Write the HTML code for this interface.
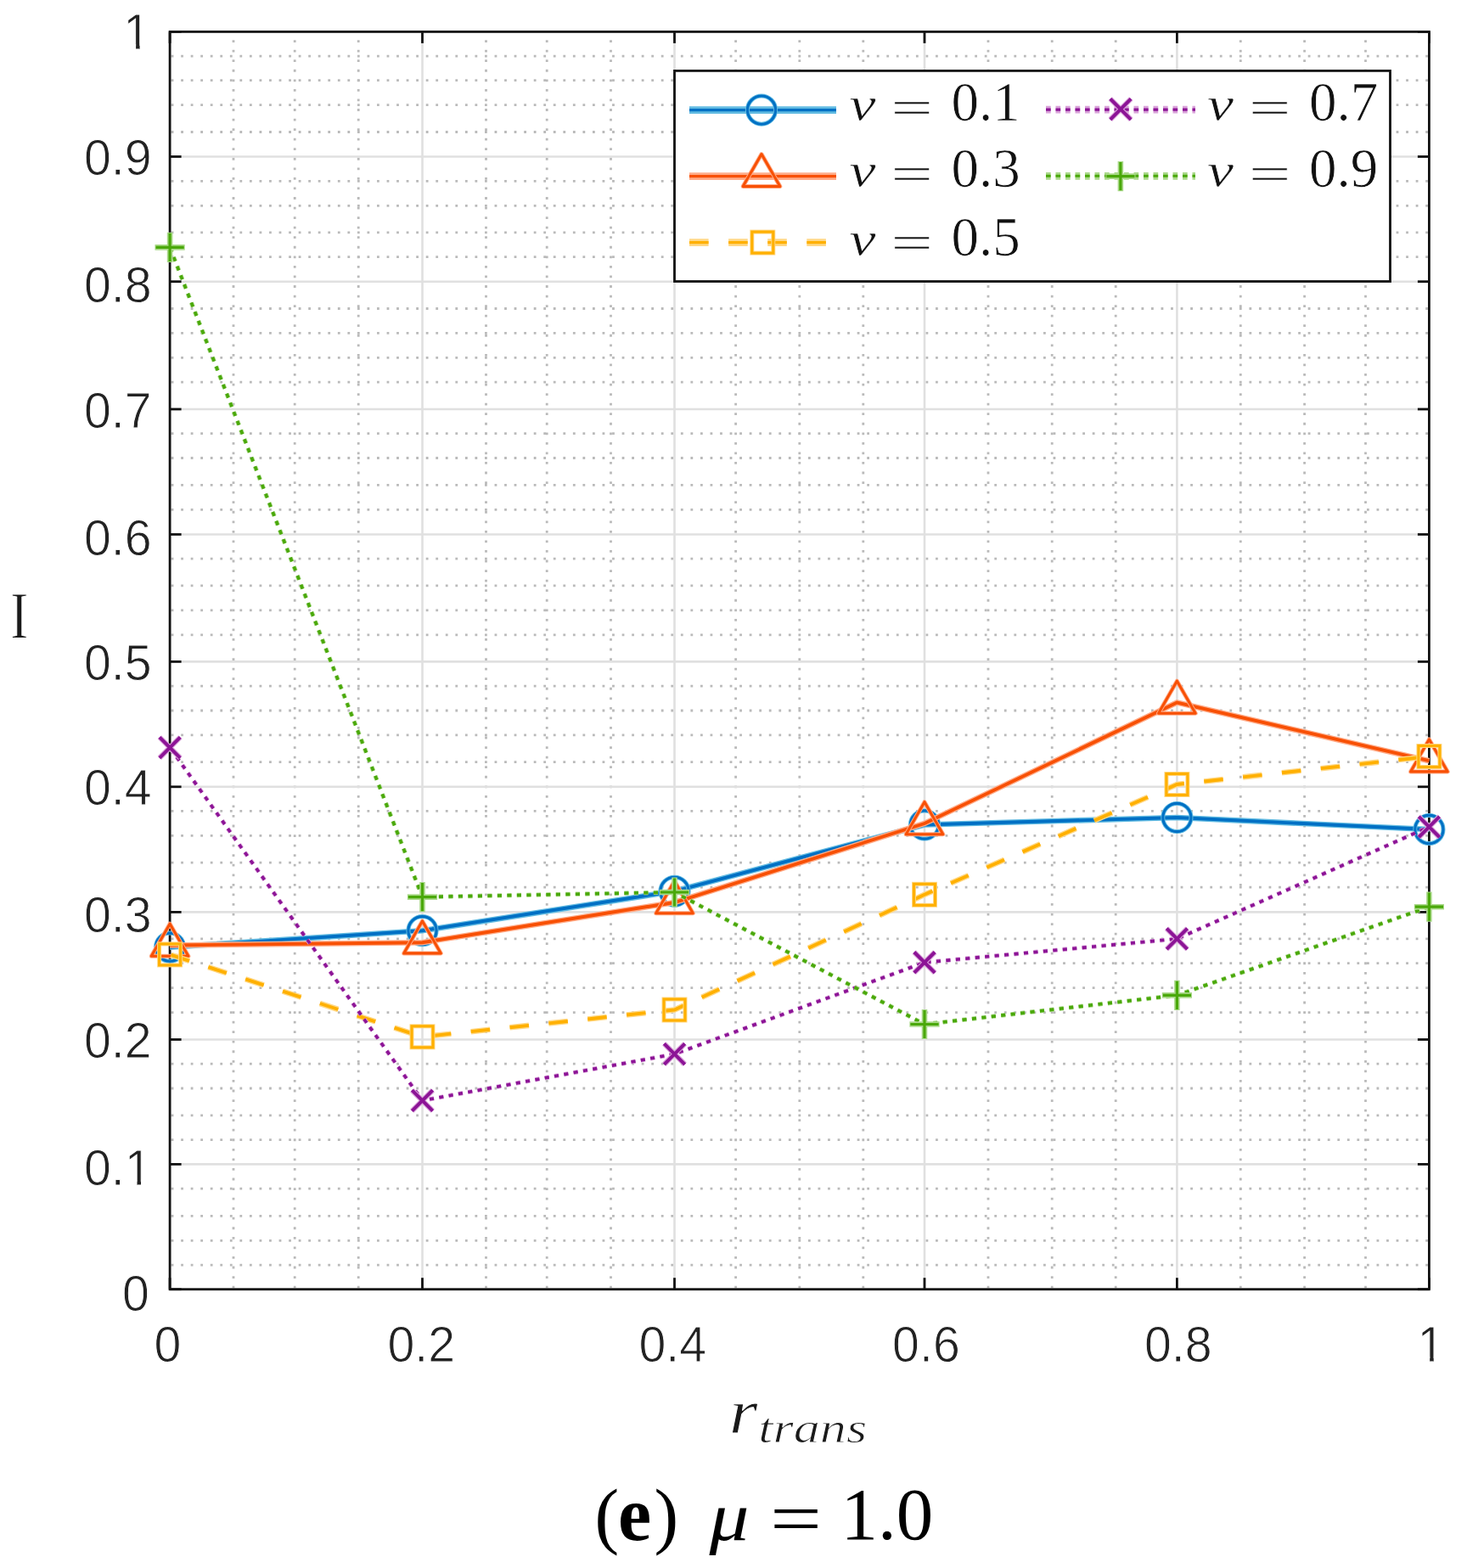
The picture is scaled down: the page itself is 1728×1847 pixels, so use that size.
<!DOCTYPE html>
<html><head><meta charset="utf-8"><title>I vs r_trans (mu = 1.0)</title>
<style>html,body{margin:0;padding:0;background:#fff;width:1728px;height:1847px;overflow:hidden}svg{display:block}</style>
</head><body>
<svg width="1728" height="1847" viewBox="0 0 1728 1847">
<defs><clipPath id="c0"><path d="M125.3,-22H265.3V51.6H164.6V68H160.1V51.6H145.3V68H125.3Z"/></clipPath><clipPath id="c1"><path d="M78.9,1315.6H218.9V1389.2H166V1405.6H161.5V1389.2H146.7V1405.6H78.9Z"/></clipPath><clipPath id="c2"><path d="M1649.4,1523.8H1789.4V1597.4H1688.7V1613.8H1684.2V1597.4H1669.4V1613.8H1649.4Z"/></clipPath></defs>
<style>
.mv{stroke:#bababa;stroke-width:2.8;stroke-dasharray:2.8 8.755;stroke-dashoffset:3.255}
.mh{stroke:#bababa;stroke-width:2.8;stroke-dasharray:2.8 8.744}
.mj{stroke:#e0e0e0;stroke-width:2.6}
.tk{font-family:"Liberation Sans",Arial,sans-serif;font-size:60px;fill:#222;stroke:#fff;stroke-width:0.9px}
.lg{font-family:"Liberation Serif","Times New Roman",serif;fill:#111;stroke:#fff;stroke-width:0.7px}
.xl{font-family:"Liberation Serif","Times New Roman",serif;fill:#1a1a1a;stroke:#fff;stroke-width:0.9px}
.cap{font-family:"Liberation Serif","Times New Roman",serif;fill:#000}
.it{font-style:italic}
.b{font-weight:bold}
</style>
<rect width="1728" height="1847" fill="#fff"/>
<g><line x1="275" y1="38.9" x2="275" y2="1517.2" class="mv"/><line x1="347.2" y1="38.9" x2="347.2" y2="1517.2" class="mv"/><line x1="422.2" y1="38.9" x2="422.2" y2="1517.2" class="mv"/><line x1="572.5" y1="38.9" x2="572.5" y2="1517.2" class="mv"/><line x1="644.2" y1="38.9" x2="644.2" y2="1517.2" class="mv"/><line x1="719.5" y1="38.9" x2="719.5" y2="1517.2" class="mv"/><line x1="866.6" y1="38.9" x2="866.6" y2="1517.2" class="mv"/><line x1="941.8" y1="38.9" x2="941.8" y2="1517.2" class="mv"/><line x1="1016.8" y1="38.9" x2="1016.8" y2="1517.2" class="mv"/><line x1="1164" y1="38.9" x2="1164" y2="1517.2" class="mv"/><line x1="1239.2" y1="38.9" x2="1239.2" y2="1517.2" class="mv"/><line x1="1314.2" y1="38.9" x2="1314.2" y2="1517.2" class="mv"/><line x1="1461.3" y1="38.9" x2="1461.3" y2="1517.2" class="mv"/><line x1="1536.6" y1="38.9" x2="1536.6" y2="1517.2" class="mv"/><line x1="1608.5" y1="38.9" x2="1608.5" y2="1517.2" class="mv"/><line x1="201.6" y1="66.1" x2="1681.9" y2="66.1" class="mh"/><line x1="201.6" y1="94.6" x2="1681.9" y2="94.6" class="mh"/><line x1="201.6" y1="123.7" x2="1681.9" y2="123.7" class="mh"/><line x1="201.6" y1="155.5" x2="1681.9" y2="155.5" class="mh"/><line x1="201.6" y1="213.3" x2="1681.9" y2="213.3" class="mh"/><line x1="201.6" y1="242.3" x2="1681.9" y2="242.3" class="mh"/><line x1="201.6" y1="273.9" x2="1681.9" y2="273.9" class="mh"/><line x1="201.6" y1="302.7" x2="1681.9" y2="302.7" class="mh"/><line x1="201.6" y1="363.5" x2="1681.9" y2="363.5" class="mh"/><line x1="201.6" y1="392.4" x2="1681.9" y2="392.4" class="mh"/><line x1="201.6" y1="421.3" x2="1681.9" y2="421.3" class="mh"/><line x1="201.6" y1="450.2" x2="1681.9" y2="450.2" class="mh"/><line x1="201.6" y1="510.6" x2="1681.9" y2="510.6" class="mh"/><line x1="201.6" y1="539.5" x2="1681.9" y2="539.5" class="mh"/><line x1="201.6" y1="571.4" x2="1681.9" y2="571.4" class="mh"/><line x1="201.6" y1="600.3" x2="1681.9" y2="600.3" class="mh"/><line x1="201.6" y1="658.1" x2="1681.9" y2="658.1" class="mh"/><line x1="201.6" y1="689.9" x2="1681.9" y2="689.9" class="mh"/><line x1="201.6" y1="718.8" x2="1681.9" y2="718.8" class="mh"/><line x1="201.6" y1="747.8" x2="1681.9" y2="747.8" class="mh"/><line x1="201.6" y1="808.2" x2="1681.9" y2="808.2" class="mh"/><line x1="201.6" y1="837" x2="1681.9" y2="837" class="mh"/><line x1="201.6" y1="865.9" x2="1681.9" y2="865.9" class="mh"/><line x1="201.6" y1="897.6" x2="1681.9" y2="897.6" class="mh"/><line x1="201.6" y1="955.3" x2="1681.9" y2="955.3" class="mh"/><line x1="201.6" y1="984.3" x2="1681.9" y2="984.3" class="mh"/><line x1="201.6" y1="1016.2" x2="1681.9" y2="1016.2" class="mh"/><line x1="201.6" y1="1045.1" x2="1681.9" y2="1045.1" class="mh"/><line x1="201.6" y1="1105.8" x2="1681.9" y2="1105.8" class="mh"/><line x1="201.6" y1="1134.7" x2="1681.9" y2="1134.7" class="mh"/><line x1="201.6" y1="1163.6" x2="1681.9" y2="1163.6" class="mh"/><line x1="201.6" y1="1192.6" x2="1681.9" y2="1192.6" class="mh"/><line x1="201.6" y1="1253.1" x2="1681.9" y2="1253.1" class="mh"/><line x1="201.6" y1="1282" x2="1681.9" y2="1282" class="mh"/><line x1="201.6" y1="1313.8" x2="1681.9" y2="1313.8" class="mh"/><line x1="201.6" y1="1342.7" x2="1681.9" y2="1342.7" class="mh"/><line x1="201.6" y1="1400.2" x2="1681.9" y2="1400.2" class="mh"/><line x1="201.6" y1="1432.3" x2="1681.9" y2="1432.3" class="mh"/><line x1="201.6" y1="1461.3" x2="1681.9" y2="1461.3" class="mh"/><line x1="201.6" y1="1490.1" x2="1681.9" y2="1490.1" class="mh"/><line x1="497.5" y1="37.4" x2="497.5" y2="1518.7" class="mj"/><line x1="794.5" y1="37.4" x2="794.5" y2="1518.7" class="mj"/><line x1="1089.0" y1="37.4" x2="1089.0" y2="1518.7" class="mj"/><line x1="1386.4" y1="37.4" x2="1386.4" y2="1518.7" class="mj"/><line x1="200.1" y1="1371.4" x2="1683.4" y2="1371.4" class="mj"/><line x1="200.1" y1="1224.5" x2="1683.4" y2="1224.5" class="mj"/><line x1="200.1" y1="1074.4" x2="1683.4" y2="1074.4" class="mj"/><line x1="200.1" y1="926.8" x2="1683.4" y2="926.8" class="mj"/><line x1="200.1" y1="779.4" x2="1683.4" y2="779.4" class="mj"/><line x1="200.1" y1="629.5" x2="1683.4" y2="629.5" class="mj"/><line x1="200.1" y1="482.0" x2="1683.4" y2="482.0" class="mj"/><line x1="200.1" y1="331.7" x2="1683.4" y2="331.7" class="mj"/><line x1="200.1" y1="184.5" x2="1683.4" y2="184.5" class="mj"/></g>
<g stroke="#111" stroke-width="2.8"><line x1="200.1" y1="1518.7" x2="200.1" y2="1505.2"/><line x1="200.1" y1="37.4" x2="200.1" y2="50.9"/><line x1="497.5" y1="1518.7" x2="497.5" y2="1505.2"/><line x1="497.5" y1="37.4" x2="497.5" y2="50.9"/><line x1="794.5" y1="1518.7" x2="794.5" y2="1505.2"/><line x1="794.5" y1="37.4" x2="794.5" y2="50.9"/><line x1="1089.0" y1="1518.7" x2="1089.0" y2="1505.2"/><line x1="1089.0" y1="37.4" x2="1089.0" y2="50.9"/><line x1="1386.4" y1="1518.7" x2="1386.4" y2="1505.2"/><line x1="1386.4" y1="37.4" x2="1386.4" y2="50.9"/><line x1="1683.4" y1="1518.7" x2="1683.4" y2="1505.2"/><line x1="1683.4" y1="37.4" x2="1683.4" y2="50.9"/><line x1="200.1" y1="37.4" x2="213.6" y2="37.4"/><line x1="1683.4" y1="37.4" x2="1669.9" y2="37.4"/><line x1="200.1" y1="184.5" x2="213.6" y2="184.5"/><line x1="1683.4" y1="184.5" x2="1669.9" y2="184.5"/><line x1="200.1" y1="331.7" x2="213.6" y2="331.7"/><line x1="1683.4" y1="331.7" x2="1669.9" y2="331.7"/><line x1="200.1" y1="482.0" x2="213.6" y2="482.0"/><line x1="1683.4" y1="482.0" x2="1669.9" y2="482.0"/><line x1="200.1" y1="629.5" x2="213.6" y2="629.5"/><line x1="1683.4" y1="629.5" x2="1669.9" y2="629.5"/><line x1="200.1" y1="779.4" x2="213.6" y2="779.4"/><line x1="1683.4" y1="779.4" x2="1669.9" y2="779.4"/><line x1="200.1" y1="926.8" x2="213.6" y2="926.8"/><line x1="1683.4" y1="926.8" x2="1669.9" y2="926.8"/><line x1="200.1" y1="1074.4" x2="213.6" y2="1074.4"/><line x1="1683.4" y1="1074.4" x2="1669.9" y2="1074.4"/><line x1="200.1" y1="1224.5" x2="213.6" y2="1224.5"/><line x1="1683.4" y1="1224.5" x2="1669.9" y2="1224.5"/><line x1="200.1" y1="1371.4" x2="213.6" y2="1371.4"/><line x1="1683.4" y1="1371.4" x2="1669.9" y2="1371.4"/><line x1="200.1" y1="1518.7" x2="213.6" y2="1518.7"/><line x1="1683.4" y1="1518.7" x2="1669.9" y2="1518.7"/></g>
<rect x="200.1" y="37.4" width="1483.3" height="1481.3" fill="none" stroke="#111" stroke-width="2.8"/>
<g><polyline points="200.1,1115.7 497.5,1096.2 794.5,1049.8 1089,971.5 1386.4,963 1683.4,977" stroke="#62bbe2" stroke-width="6.6" fill="none"/><polyline points="200.1,1115.7 497.5,1096.2 794.5,1049.8 1089,971.5 1386.4,963 1683.4,977" stroke="#0070c4" stroke-width="3.9" fill="none"/><circle cx="200.1" cy="1115.7" r="16.6" fill="none" stroke="#62bbe2" stroke-width="5"/><circle cx="200.1" cy="1115.7" r="16.6" fill="none" stroke="#0070c4" stroke-width="3.1"/><circle cx="497.5" cy="1096.2" r="16.6" fill="none" stroke="#62bbe2" stroke-width="5"/><circle cx="497.5" cy="1096.2" r="16.6" fill="none" stroke="#0070c4" stroke-width="3.1"/><circle cx="794.5" cy="1049.8" r="16.6" fill="none" stroke="#62bbe2" stroke-width="5"/><circle cx="794.5" cy="1049.8" r="16.6" fill="none" stroke="#0070c4" stroke-width="3.1"/><circle cx="1089" cy="971.5" r="16.6" fill="none" stroke="#62bbe2" stroke-width="5"/><circle cx="1089" cy="971.5" r="16.6" fill="none" stroke="#0070c4" stroke-width="3.1"/><circle cx="1386.4" cy="963" r="16.6" fill="none" stroke="#62bbe2" stroke-width="5"/><circle cx="1386.4" cy="963" r="16.6" fill="none" stroke="#0070c4" stroke-width="3.1"/><circle cx="1683.4" cy="977" r="16.6" fill="none" stroke="#62bbe2" stroke-width="5"/><circle cx="1683.4" cy="977" r="16.6" fill="none" stroke="#0070c4" stroke-width="3.1"/><polyline points="200.1,1113.5 497.5,1110.2 794.5,1063 1089,970 1386.4,827.5 1683.4,896.2" stroke="#ffab88" stroke-width="6.6" fill="none"/><polyline points="200.1,1113.5 497.5,1110.2 794.5,1063 1089,970 1386.4,827.5 1683.4,896.2" stroke="#f85005" stroke-width="3.9" fill="none"/><path d="M200.1,1088.2L221.9,1126.2L178.3,1126.2Z" fill="none" stroke="#ffab88" stroke-width="5" stroke-linejoin="round"/><path d="M200.1,1088.2L221.9,1126.2L178.3,1126.2Z" fill="none" stroke="#f85005" stroke-width="3.1" stroke-linejoin="round"/><path d="M497.5,1084.9L519.3,1122.9L475.7,1122.9Z" fill="none" stroke="#ffab88" stroke-width="5" stroke-linejoin="round"/><path d="M497.5,1084.9L519.3,1122.9L475.7,1122.9Z" fill="none" stroke="#f85005" stroke-width="3.1" stroke-linejoin="round"/><path d="M794.5,1037.7L816.3,1075.7L772.7,1075.7Z" fill="none" stroke="#ffab88" stroke-width="5" stroke-linejoin="round"/><path d="M794.5,1037.7L816.3,1075.7L772.7,1075.7Z" fill="none" stroke="#f85005" stroke-width="3.1" stroke-linejoin="round"/><path d="M1089,944.7L1110.8,982.7L1067.2,982.7Z" fill="none" stroke="#ffab88" stroke-width="5" stroke-linejoin="round"/><path d="M1089,944.7L1110.8,982.7L1067.2,982.7Z" fill="none" stroke="#f85005" stroke-width="3.1" stroke-linejoin="round"/><path d="M1386.4,802.2L1408.2,840.2L1364.6,840.2Z" fill="none" stroke="#ffab88" stroke-width="5" stroke-linejoin="round"/><path d="M1386.4,802.2L1408.2,840.2L1364.6,840.2Z" fill="none" stroke="#f85005" stroke-width="3.1" stroke-linejoin="round"/><path d="M1683.4,870.9L1705.2,908.9L1661.6,908.9Z" fill="none" stroke="#ffab88" stroke-width="5" stroke-linejoin="round"/><path d="M1683.4,870.9L1705.2,908.9L1661.6,908.9Z" fill="none" stroke="#f85005" stroke-width="3.1" stroke-linejoin="round"/><polyline points="200.1,1124.4 497.5,1221.3 794.5,1189.5 1089,1053.8 1386.4,924 1683.4,891" stroke="#ffd886" stroke-width="6.6" fill="none" stroke-dasharray="22.6 23.5" stroke-dashoffset="-1.5"/><polyline points="200.1,1124.4 497.5,1221.3 794.5,1189.5 1089,1053.8 1386.4,924 1683.4,891" stroke="#ffb000" stroke-width="3.9" fill="none" stroke-dasharray="22.6 23.5" stroke-dashoffset="-1.5"/><rect x="187.6" y="1111.9" width="25" height="25" fill="none" stroke="#ffd886" stroke-width="5"/><rect x="187.6" y="1111.9" width="25" height="25" fill="none" stroke="#ffb000" stroke-width="3.1"/><rect x="485" y="1208.8" width="25" height="25" fill="none" stroke="#ffd886" stroke-width="5"/><rect x="485" y="1208.8" width="25" height="25" fill="none" stroke="#ffb000" stroke-width="3.1"/><rect x="782" y="1177" width="25" height="25" fill="none" stroke="#ffd886" stroke-width="5"/><rect x="782" y="1177" width="25" height="25" fill="none" stroke="#ffb000" stroke-width="3.1"/><rect x="1076.5" y="1041.3" width="25" height="25" fill="none" stroke="#ffd886" stroke-width="5"/><rect x="1076.5" y="1041.3" width="25" height="25" fill="none" stroke="#ffb000" stroke-width="3.1"/><rect x="1373.9" y="911.5" width="25" height="25" fill="none" stroke="#ffd886" stroke-width="5"/><rect x="1373.9" y="911.5" width="25" height="25" fill="none" stroke="#ffb000" stroke-width="3.1"/><rect x="1670.9" y="878.5" width="25" height="25" fill="none" stroke="#ffd886" stroke-width="5"/><rect x="1670.9" y="878.5" width="25" height="25" fill="none" stroke="#ffb000" stroke-width="3.1"/><polyline points="200.1,880.6 497.5,1296.4 794.5,1241.6 1089,1133.7 1386.4,1105.9 1683.4,974" stroke="#d9a2d9" stroke-width="5.3" fill="none" stroke-dasharray="5.2 6.3" stroke-dashoffset="-2.3"/><polyline points="200.1,880.6 497.5,1296.4 794.5,1241.6 1089,1133.7 1386.4,1105.9 1683.4,974" stroke="#8c1496" stroke-width="3.6" fill="none" stroke-dasharray="5.2 6.3" stroke-dashoffset="-2.3"/><path d="M187.9,868.4L212.3,892.8M187.9,892.8L212.3,868.4" stroke="#d9a2d9" stroke-width="6.2" fill="none"/><path d="M187.9,868.4L212.3,892.8M187.9,892.8L212.3,868.4" stroke="#8c1496" stroke-width="4" fill="none"/><path d="M485.3,1284.2L509.7,1308.6M485.3,1308.6L509.7,1284.2" stroke="#d9a2d9" stroke-width="6.2" fill="none"/><path d="M485.3,1284.2L509.7,1308.6M485.3,1308.6L509.7,1284.2" stroke="#8c1496" stroke-width="4" fill="none"/><path d="M782.3,1229.4L806.7,1253.8M782.3,1253.8L806.7,1229.4" stroke="#d9a2d9" stroke-width="6.2" fill="none"/><path d="M782.3,1229.4L806.7,1253.8M782.3,1253.8L806.7,1229.4" stroke="#8c1496" stroke-width="4" fill="none"/><path d="M1076.8,1121.5L1101.2,1145.9M1076.8,1145.9L1101.2,1121.5" stroke="#d9a2d9" stroke-width="6.2" fill="none"/><path d="M1076.8,1121.5L1101.2,1145.9M1076.8,1145.9L1101.2,1121.5" stroke="#8c1496" stroke-width="4" fill="none"/><path d="M1374.2,1093.7L1398.6,1118.1M1374.2,1118.1L1398.6,1093.7" stroke="#d9a2d9" stroke-width="6.2" fill="none"/><path d="M1374.2,1093.7L1398.6,1118.1M1374.2,1118.1L1398.6,1093.7" stroke="#8c1496" stroke-width="4" fill="none"/><path d="M1671.2,961.8L1695.6,986.2M1671.2,986.2L1695.6,961.8" stroke="#d9a2d9" stroke-width="6.2" fill="none"/><path d="M1671.2,961.8L1695.6,986.2M1671.2,986.2L1695.6,961.8" stroke="#8c1496" stroke-width="4" fill="none"/><polyline points="200.1,291.4 497.5,1056.6 794.5,1051 1089,1206.5 1386.4,1172.4 1683.4,1068.2" stroke="#aad98a" stroke-width="5.3" fill="none" stroke-dasharray="5.2 6.3" stroke-dashoffset="-0.8"/><polyline points="200.1,291.4 497.5,1056.6 794.5,1051 1089,1206.5 1386.4,1172.4 1683.4,1068.2" stroke="#4aa80a" stroke-width="3.6" fill="none" stroke-dasharray="5.2 6.3" stroke-dashoffset="-0.8"/><path d="M182.5,291.4L217.7,291.4M200.1,273.8L200.1,309" stroke="#aad98a" stroke-width="6.6" fill="none"/><path d="M183.5,291.4L216.7,291.4M200.1,274.8L200.1,308" stroke="#4aa80a" stroke-width="3.2" fill="none"/><path d="M479.9,1056.6L515.1,1056.6M497.5,1039L497.5,1074.2" stroke="#aad98a" stroke-width="6.6" fill="none"/><path d="M480.9,1056.6L514.1,1056.6M497.5,1040L497.5,1073.2" stroke="#4aa80a" stroke-width="3.2" fill="none"/><path d="M776.9,1051L812.1,1051M794.5,1033.4L794.5,1068.6" stroke="#aad98a" stroke-width="6.6" fill="none"/><path d="M777.9,1051L811.1,1051M794.5,1034.4L794.5,1067.6" stroke="#4aa80a" stroke-width="3.2" fill="none"/><path d="M1071.4,1206.5L1106.6,1206.5M1089,1188.9L1089,1224.1" stroke="#aad98a" stroke-width="6.6" fill="none"/><path d="M1072.4,1206.5L1105.6,1206.5M1089,1189.9L1089,1223.1" stroke="#4aa80a" stroke-width="3.2" fill="none"/><path d="M1368.8,1172.4L1404,1172.4M1386.4,1154.8L1386.4,1190" stroke="#aad98a" stroke-width="6.6" fill="none"/><path d="M1369.8,1172.4L1403,1172.4M1386.4,1155.8L1386.4,1189" stroke="#4aa80a" stroke-width="3.2" fill="none"/><path d="M1665.8,1068.2L1701,1068.2M1683.4,1050.6L1683.4,1085.8" stroke="#aad98a" stroke-width="6.6" fill="none"/><path d="M1666.8,1068.2L1700,1068.2M1683.4,1051.6L1683.4,1084.8" stroke="#4aa80a" stroke-width="3.2" fill="none"/></g>
<g><rect x="794.5" y="83.4" width="843" height="248.1" fill="#fff" stroke="#111" stroke-width="2.8"/><polyline points="812,129.6 985,129.6" stroke="#62bbe2" stroke-width="8.8" fill="none"/><polyline points="812,129.6 985,129.6" stroke="#0070c4" stroke-width="3.1" fill="none"/><circle cx="897" cy="129.6" r="16.6" fill="none" stroke="#62bbe2" stroke-width="5"/><circle cx="897" cy="129.6" r="16.6" fill="none" stroke="#0070c4" stroke-width="3.1"/><polyline points="812,207.6 985,207.6" stroke="#ffab88" stroke-width="8.8" fill="none"/><polyline points="812,207.6 985,207.6" stroke="#f85005" stroke-width="3.1" fill="none"/><path d="M897,181.6L918.8,219.6L875.2,219.6Z" fill="none" stroke="#ffab88" stroke-width="5" stroke-linejoin="round"/><path d="M897,181.6L918.8,219.6L875.2,219.6Z" fill="none" stroke="#f85005" stroke-width="3.1" stroke-linejoin="round"/><polyline points="812,285.6 985,285.6" stroke="#ffd886" stroke-width="8.8" fill="none" stroke-dasharray="22.6 23.5" stroke-dashoffset="0"/><polyline points="812,285.6 985,285.6" stroke="#ffb000" stroke-width="3.1" fill="none" stroke-dasharray="22.6 23.5" stroke-dashoffset="0"/><rect x="885.8" y="273.1" width="25" height="25" fill="none" stroke="#ffd886" stroke-width="5"/><rect x="885.8" y="273.1" width="25" height="25" fill="none" stroke="#ffb000" stroke-width="3.1"/><polyline points="1232,129.1 1408,129.1" stroke="#d9a2d9" stroke-width="8.8" fill="none" stroke-dasharray="5.7 5.8" stroke-dashoffset="0"/><polyline points="1232,129.1 1408,129.1" stroke="#8c1496" stroke-width="3.1" fill="none" stroke-dasharray="5.7 5.8" stroke-dashoffset="0"/><path d="M1307.8,116.4L1332.2,140.8M1307.8,140.8L1332.2,116.4" stroke="#d9a2d9" stroke-width="6.2" fill="none"/><path d="M1307.8,116.4L1332.2,140.8M1307.8,140.8L1332.2,116.4" stroke="#8c1496" stroke-width="4" fill="none"/><polyline points="1232,207.3 1408,207.3" stroke="#aad98a" stroke-width="8.8" fill="none" stroke-dasharray="5.7 5.8" stroke-dashoffset="0"/><polyline points="1232,207.3 1408,207.3" stroke="#4aa80a" stroke-width="3.1" fill="none" stroke-dasharray="5.7 5.8" stroke-dashoffset="0"/><path d="M1302.3,207.6L1337.5,207.6M1319.9,190L1319.9,225.2" stroke="#aad98a" stroke-width="6.6" fill="none"/><path d="M1303.3,207.6L1336.5,207.6M1319.9,191L1319.9,224.2" stroke="#4aa80a" stroke-width="3.2" fill="none"/><text transform="translate(1000.6,140.7) scale(1.169,0.917)" class="lg it" font-size="60">ν</text><text transform="translate(1049.3,145.8) scale(1.361,0.875)" class="lg" font-size="65">=</text><text transform="translate(1120.4,142.4)" class="lg" font-size="65">0.1</text><text transform="translate(1000.6,218.7) scale(1.169,0.917)" class="lg it" font-size="60">ν</text><text transform="translate(1049.3,223.8) scale(1.361,0.875)" class="lg" font-size="65">=</text><text transform="translate(1120.4,220.4)" class="lg" font-size="65">0.3</text><text transform="translate(1000.6,299.5) scale(1.169,0.917)" class="lg it" font-size="60">ν</text><text transform="translate(1049.3,304.6) scale(1.361,0.875)" class="lg" font-size="65">=</text><text transform="translate(1120.4,301.2)" class="lg" font-size="65">0.5</text><text transform="translate(1422.1,140.7) scale(1.169,0.917)" class="lg it" font-size="60">ν</text><text transform="translate(1470.8,145.8) scale(1.361,0.875)" class="lg" font-size="65">=</text><text transform="translate(1541.9,142.4)" class="lg" font-size="65">0.7</text><text transform="translate(1422.1,218.7) scale(1.169,0.917)" class="lg it" font-size="60">ν</text><text transform="translate(1470.8,223.8) scale(1.361,0.875)" class="lg" font-size="65">=</text><text transform="translate(1541.9,220.4)" class="lg" font-size="65">0.9</text></g>
<g><g clip-path="url(#c0)"><text transform="translate(145.3,58) scale(0.955,1)" class="tk">1</text></g><g><text transform="translate(98.9,205.9) scale(0.955,1)" class="tk">0.9</text></g><g><text transform="translate(98.9,356) scale(0.955,1)" class="tk">0.8</text></g><g><text transform="translate(98.9,503.6) scale(0.955,1)" class="tk">0.7</text></g><g><text transform="translate(98.9,653.6) scale(0.955,1)" class="tk">0.6</text></g><g><text transform="translate(98.9,800.8) scale(0.955,1)" class="tk">0.5</text></g><g><text transform="translate(98.9,948.2) scale(0.955,1)" class="tk">0.4</text></g><g><text transform="translate(98.9,1098.2) scale(0.955,1)" class="tk">0.3</text></g><g><text transform="translate(98.9,1245.6) scale(0.955,1)" class="tk">0.2</text></g><g clip-path="url(#c1)"><text transform="translate(98.9,1395.6) scale(0.955,1)" class="tk">0.1</text></g><g><text transform="translate(143.9,1544.2) scale(0.955,1)" class="tk">0</text></g><g><text transform="translate(181.4,1603.8) scale(0.955,1)" class="tk">0</text></g><g><text transform="translate(456.5,1603.8) scale(0.955,1)" class="tk">0.2</text></g><g><text transform="translate(752.5,1603.8) scale(0.955,1)" class="tk">0.4</text></g><g><text transform="translate(1051.1,1603.8) scale(0.955,1)" class="tk">0.6</text></g><g><text transform="translate(1348,1603.8) scale(0.955,1)" class="tk">0.8</text></g><g clip-path="url(#c2)"><text transform="translate(1669.4,1603.8) scale(0.955,1)" class="tk">1</text></g></g>
<g><text transform="translate(858.8,1687.8) scale(1.17,1.0)" class="xl it" font-size="74">r</text><text transform="translate(893.2,1699.4) scale(1.22,1.0)" class="xl it" font-size="51">trans</text><text transform="translate(12.2,751.2) scale(0.8,1.0)" class="xl" font-size="79">I</text><text transform="translate(700.6,1813.6)" class="cap" font-size="86">(</text><text transform="translate(728.1,1814.4) scale(0.98,1.0)" class="cap b" font-size="90">e</text><text transform="translate(770.4,1813.6)" class="cap" font-size="86">)</text><text transform="translate(835.6,1813.6) scale(1.14,1.0)" class="cap it" font-size="82">μ</text><text transform="translate(907,1818) scale(1.260,1.010)" class="cap" font-size="86">=</text><text transform="translate(990.6,1813.4)" class="cap" font-size="87">1.0</text></g>
</svg>
</body></html>
